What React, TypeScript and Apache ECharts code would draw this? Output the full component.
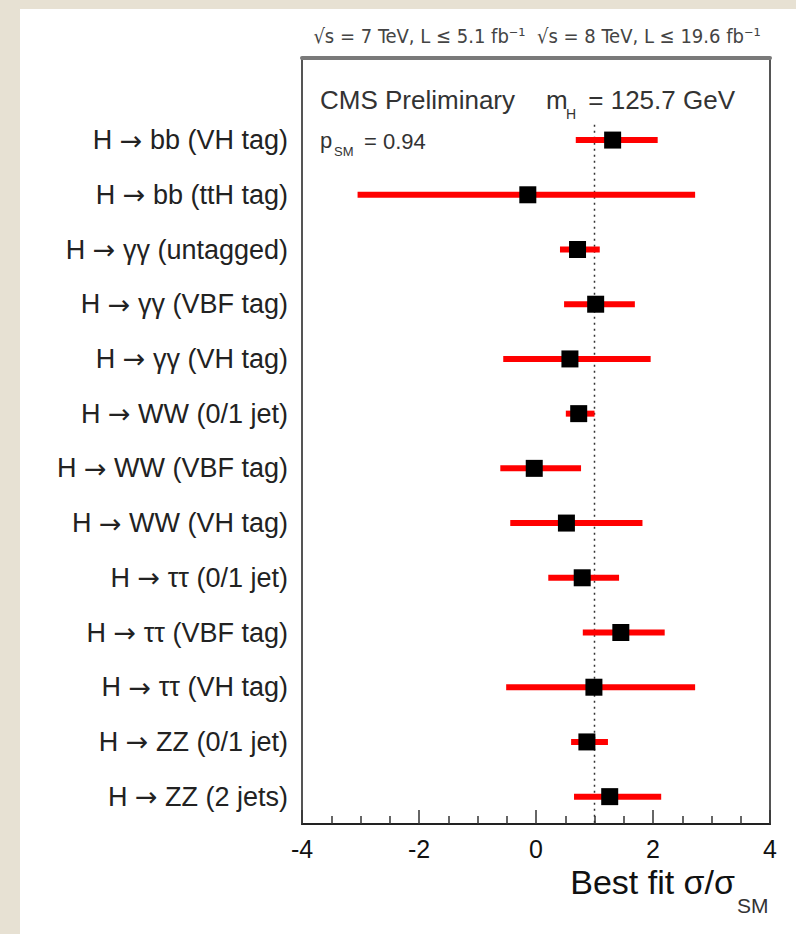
import React, { useEffect, useRef } from "react";
import * as echarts from "echarts";

const categories = [
  "H → bb (VH tag)",
  "H → bb (ttH tag)",
  "H → γγ (untagged)",
  "H → γγ (VBF tag)",
  "H → γγ (VH tag)",
  "H → WW (0/1 jet)",
  "H → WW (VBF tag)",
  "H → WW (VH tag)",
  "H → ττ (0/1 jet)",
  "H → ττ (VBF tag)",
  "H → ττ (VH tag)",
  "H → ZZ (0/1 jet)",
  "H → ZZ (2 jets)",
];
const bestFit = [1.31, -0.14, 0.71, 1.02, 0.58, 0.73, -0.03, 0.52, 0.79, 1.45, 0.99, 0.87, 1.26];
const errLow = [0.68, -3.05, 0.41, 0.48, -0.56, 0.51, -0.61, -0.44, 0.21, 0.8, -0.51, 0.6, 0.65];
const errHigh = [2.08, 2.72, 1.09, 1.69, 1.96, 1.0, 0.77, 1.82, 1.42, 2.2, 2.72, 1.23, 2.14];
const smValue = 1;
const xTicks = [-4, -2, 0, 2, 4];

const FONT = "'Liberation Sans', Arial, Helvetica, sans-serif";

export default function App() {
  const ref = useRef<HTMLDivElement>(null);
  useEffect(() => {
    if (!ref.current) return;
    const chart = echarts.init(ref.current, null, { renderer: "svg" });
    const yCats = [""].concat(categories);
    const scatterData = bestFit.map((v, i) => [v, i + 1]);
    const errData = categories.map((_, i) => [i + 1, errLow[i], errHigh[i]]);
    const option: any = {
      animation: false,
      backgroundColor: "#e7e1d3",
      textStyle: { fontFamily: FONT },
      grid: {
        left: 302,
        right: 26,
        top: 58,
        bottom: 110,
        show: true,
        borderColor: "#555",
        borderWidth: 2,
        backgroundColor: "#fff",
      },
      xAxis: [
        {
          type: "value",
          min: xTicks[0],
          max: xTicks[xTicks.length - 1],
          interval: 2,
          position: "bottom",
          axisLine: { show: true, onZero: false, lineStyle: { color: "#222", width: 2 } },
          axisTick: { show: true, inside: true, length: 14, lineStyle: { color: "#333", width: 1.5 } },
          minorTick: { show: true, splitNumber: 4, length: 8, lineStyle: { color: "#333", width: 1.5 } },
          splitLine: { show: false },
          axisLabel: { fontSize: 25, color: "#111", margin: 12, fontFamily: FONT },
        },
        {
          type: "value",
          min: xTicks[0],
          max: xTicks[xTicks.length - 1],
          position: "top",
          axisLine: { show: true, onZero: false, lineStyle: { color: "#7a7a7a", width: 4 } },
          axisTick: { show: false },
          minorTick: { show: false },
          axisLabel: { show: false },
          splitLine: { show: false },
        },
      ],
      yAxis: [
        {
          type: "category",
          data: yCats,
          inverse: true,
          axisLine: { show: false },
          axisTick: { show: false },
          splitLine: { show: false },
          axisLabel: {
            fontSize: 27,
            color: "#222",
            margin: 14,
            fontFamily: FONT,
            formatter: (v: string) => {
              if (!v) return "";
              const parts = v.split("→");
              return "{t|" + parts[0] + "}{arr|→}{t|" + parts[1] + "}";
            },
            rich: {
              t: { fontSize: 27, color: "#222", fontFamily: FONT },
              arr: { fontSize: 27, color: "#222", fontFamily: "'DejaVu Sans', sans-serif" },
            },
          },
        },
        {
          type: "value",
          min: 0,
          max: 14,
          inverse: true,
          show: false,
        },
      ],
      series: [
        {
          type: "line",
          xAxisIndex: 0,
          yAxisIndex: 1,
          data: [
            [smValue, 1.22],
            [smValue, 14],
          ],
          symbol: "none",
          lineStyle: { color: "#333", width: 1.5, type: [2, 4] },
          z: 1,
        },
        {
          type: "custom",
          xAxisIndex: 0,
          yAxisIndex: 0,
          data: errData,
          encode: { x: [1, 2], y: 0 },
          renderItem: (params: any, api: any) => {
            const c = api.value(0);
            const p1 = api.coord([api.value(1), c]);
            const p2 = api.coord([api.value(2), c]);
            return {
              type: "line",
              shape: { x1: p1[0], y1: p1[1], x2: p2[0], y2: p2[1] },
              style: { stroke: "#ff0000", lineWidth: 6 },
            };
          },
          z: 2,
        },
        {
          type: "scatter",
          xAxisIndex: 0,
          yAxisIndex: 0,
          data: scatterData,
          symbol: "rect",
          symbolSize: 17,
          itemStyle: { color: "#000", opacity: 1 },
          z: 3,
        },
      ],
      graphic: [
        {
          type: "rect",
          z: -10,
          shape: { x: 20, y: 9, width: 776, height: 925 },
          style: { fill: "#fff" },
        },
        {
          type: "text",
          x: 537,
          y: 36,
          style: {
            text: "√s = 7 TeV, L ≤ 5.1 fb⁻¹  √s = 8 TeV, L ≤ 19.6 fb⁻¹",
            font: "20px 'Liberation Sans Narrow', 'DejaVu Sans Condensed', 'Liberation Sans', sans-serif",
            fill: "#444",
            align: "center",
            verticalAlign: "middle",
          },
        },
        {
          type: "text",
          x: 320,
          y: 100,
          style: { text: "CMS Preliminary", font: "26px " + FONT, fill: "#333", align: "left", verticalAlign: "middle" },
        },
        {
          type: "text",
          x: 546,
          y: 100,
          style: { text: "m", font: "26px " + FONT, fill: "#333", align: "left", verticalAlign: "middle" },
        },
        {
          type: "text",
          x: 566,
          y: 114,
          style: { text: "H", font: "14px " + FONT, fill: "#333", align: "left", verticalAlign: "middle" },
        },
        {
          type: "text",
          x: 735,
          y: 100,
          style: { text: "= 125.7 GeV", font: "26px " + FONT, fill: "#333", align: "right", verticalAlign: "middle" },
        },
        {
          type: "text",
          x: 320,
          y: 140,
          style: { text: "p", font: "22px " + FONT, fill: "#333", align: "left", verticalAlign: "middle" },
        },
        {
          type: "text",
          x: 334,
          y: 151,
          style: { text: "SM", font: "13px " + FONT, fill: "#333", align: "left", verticalAlign: "middle" },
        },
        {
          type: "text",
          x: 364,
          y: 141,
          style: { text: "= 0.94", font: "22px " + FONT, fill: "#333", align: "left", verticalAlign: "middle" },
        },
        {
          type: "text",
          x: 735,
          y: 882,
          style: { text: "Best fit σ/σ", font: "34px " + FONT, fill: "#111", align: "right", verticalAlign: "middle" },
        },
        {
          type: "text",
          x: 737,
          y: 905,
          style: { text: "SM", font: "21px " + FONT, fill: "#333", align: "left", verticalAlign: "middle" },
        },
      ],
    };
    chart.setOption(option);
    return () => chart.dispose();
  }, []);
  return (
    <div
      ref={ref}
      style={{ position: "fixed", left: 0, top: 0, width: 796, height: 934 }}
    />
  );
}
